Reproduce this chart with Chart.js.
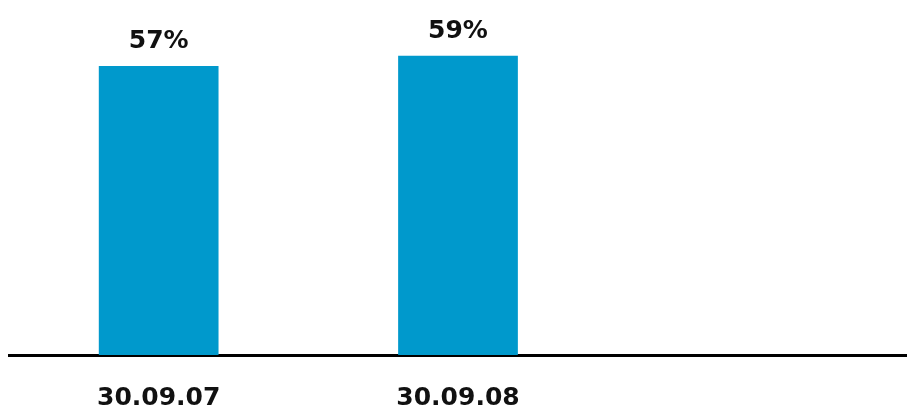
<!DOCTYPE html>
<html>
<head>
<meta charset="utf-8">
<script src="https://cdn.jsdelivr.net/npm/chart.js@4/dist/chart.umd.min.js"></script>
<style>
  html, body { margin: 0; padding: 0; background: #fff; }
  #wrap { width: 907px; height: 411px; }
</style>
</head>
<body>
<div id="wrap"><canvas id="myChart" width="907" height="411"></canvas></div>
<script>
const dates = ["30.09.07", "30.09.08", ""];
const shares = [57, 59, null];
const shareLabels = ["57%", "59%", ""];

const barLabels = {
  id: "barLabels",
  afterDatasetsDraw(chart) {
    const ctx = chart.ctx;
    const meta = chart.getDatasetMeta(0);
    ctx.save();
    ctx.font = "bold 25px 'DejaVu Sans'";
    ctx.fillStyle = "#111";
    ctx.textAlign = "center";
    ctx.textBaseline = "bottom";
    meta.data.forEach((bar, i) => {
      if (shares[i] == null) return;
      ctx.fillText(shareLabels[i], bar.x, bar.y - 12);
    });
    ctx.restore();
  },
};

new Chart(document.getElementById("myChart"), {
  type: "bar",
  plugins: [barLabels],
  data: {
    labels: dates,
    datasets: [
      {
        label: "Share",
        data: shares,
        backgroundColor: "#0099cc",
        borderWidth: 0,
        categoryPercentage: 1,
        barPercentage: 0.4,
      },
    ],
  },
  options: {
    responsive: false,
    animation: false,
    layout: { padding: { left: 9, right: 0, top: 0, bottom: 0 } },
    plugins: {
      legend: { display: false },
      tooltip: { enabled: false },
    },
    scales: {
      x: {
        z: 1,
        grid: { display: false, drawTicks: false },
        border: { display: true, color: "#000", width: 3 },
        ticks: {
          color: "#111",
          font: { family: "'DejaVu Sans'", size: 25, weight: "bold" },
          padding: 28,
          maxRotation: 0,
        },
        afterFit(scale) {
          scale.height = 56;
        },
      },
      y: {
        display: false,
        min: 0,
        max: 70,
      },
    },
  },
});
</script>
</body>
</html>
